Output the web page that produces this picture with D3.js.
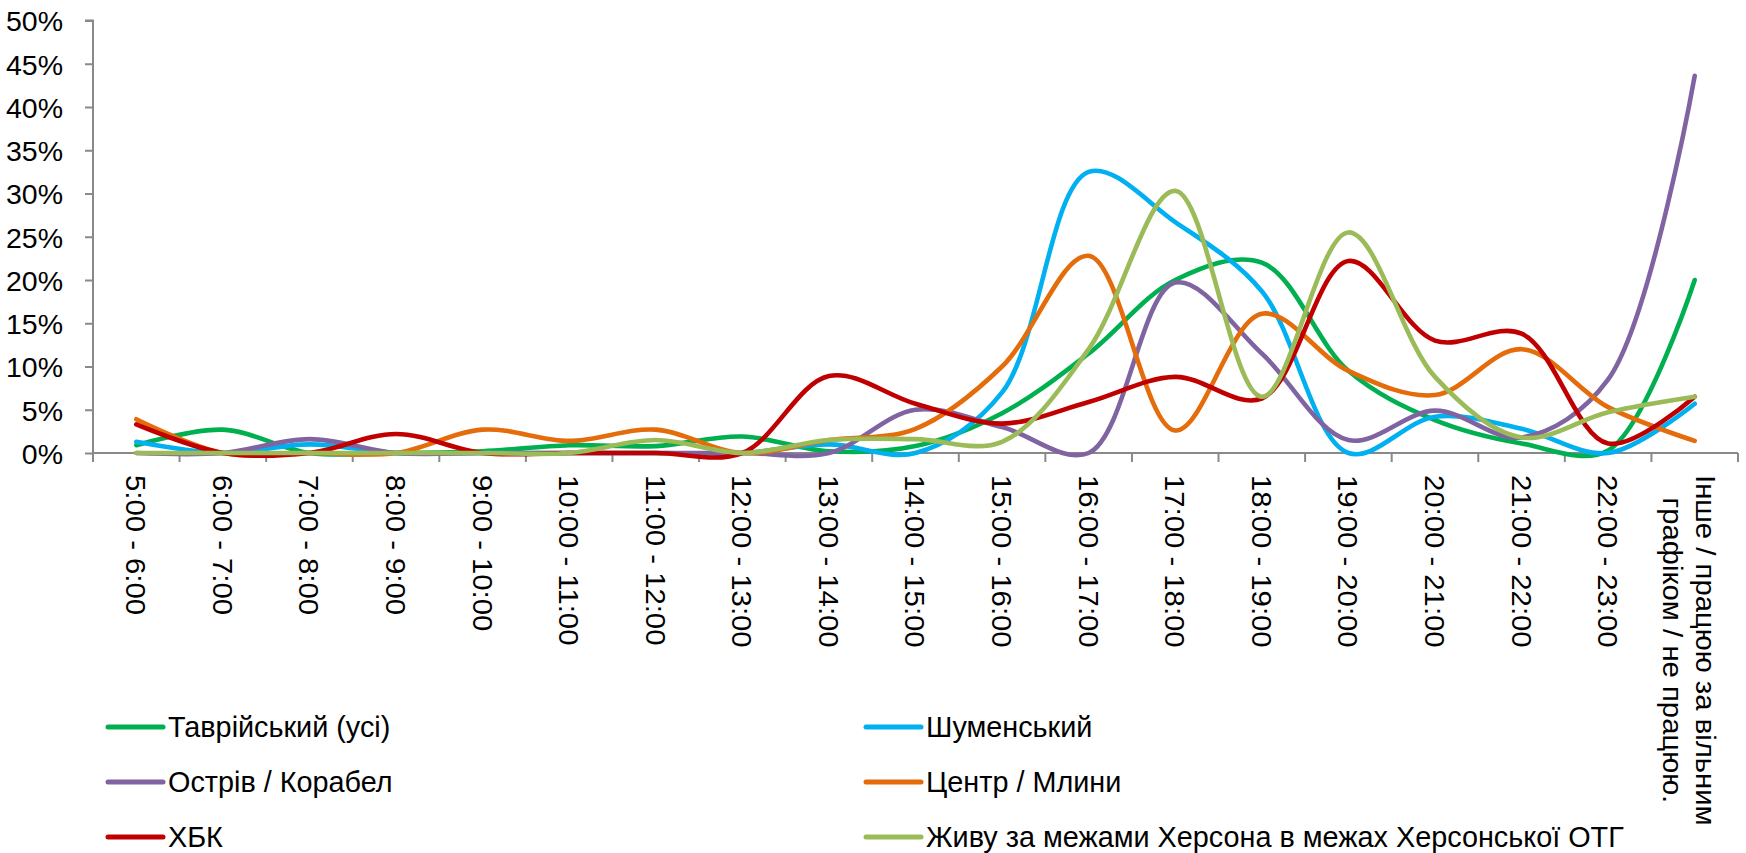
<!DOCTYPE html>
<html>
<head>
<meta charset="utf-8">
<script src="https://cdn.jsdelivr.net/npm/d3@7"></script>
<style>
  html, body { margin: 0; padding: 0; background: #fff; }
  svg { display: block; }
</style>
</head>
<body>
<svg id="chart" width="1746" height="853"></svg>
<script>
// ---------------- DATA ----------------
const categories = [
  "5:00 - 6:00", "6:00 - 7:00", "7:00 - 8:00", "8:00 - 9:00", "9:00 - 10:00",
  "10:00 - 11:00", "11:00 - 12:00", "12:00 - 13:00", "13:00 - 14:00", "14:00 - 15:00",
  "15:00 - 16:00", "16:00 - 17:00", "17:00 - 18:00", "18:00 - 19:00", "19:00 - 20:00",
  "20:00 - 21:00", "21:00 - 22:00", "22:00 - 23:00",
  "Інше / працюю за вільним графіком / не працюю."
];
const seriesNames = [
  "Таврійський (усі)", "Шуменський", "Острів / Корабел",
  "Центр / Млини", "ХБК", "Живу за межами Херсона в межах Херсонської ОТГ"
];
// values in percent
const tavriyskyi = [0.9, 2.7, 0, 0, 0.2, 0.9, 0.8, 1.9, 0.2, 0.8, 4.6, 11.5, 20.0, 22.0, 9.5, 3.8, 1.1, 0.3, 20.0];
const shumenskyi = [1.3, 0, 1.0, 0, 0, 0, 0, 0, 1.0, 0, 7.0, 32.5, 26.7, 18.7, 0, 4.2, 2.8, 0, 5.7];
const ostriv     = [0, 0, 1.6, 0, 0, 0, 0, 0, 0, 5.0, 3.0, 0, 19.7, 11.5, 1.5, 4.9, 1.8, 8.5, 43.6];
const tsentr     = [3.9, 0, 0, 0, 2.7, 1.4, 2.7, 0, 1.5, 2.8, 10.0, 22.8, 2.6, 16.1, 9.5, 6.7, 12.0, 5.3, 1.4];
const khbk       = [3.3, 0, 0, 2.2, 0, 0, 0, 0, 8.9, 5.7, 3.4, 5.9, 8.8, 6.3, 22.2, 13.0, 13.8, 1.1, 6.5];
const zhyvu      = [0, 0, 0, 0, 0, 0, 1.5, 0, 1.5, 1.6, 1.3, 12.0, 30.3, 6.5, 25.5, 8.8, 1.8, 4.7, 6.5];
const yTickValues = [0, 5, 10, 15, 20, 25, 30, 35, 40, 45, 50];

const seriesValues = [tavriyskyi, shumenskyi, ostriv, tsentr, khbk, zhyvu];
const seriesColors = ["#00B050", "#00B0F0", "#8064A2", "#E46C0A", "#C00000", "#9BBB59"];

// ---------------- LAYOUT ----------------
const svg = d3.select("#chart");
svg.append("rect").attr("width", 1746).attr("height", 853).attr("fill", "#fff");

const plot = { left: 93, right: 1738, top: 20.5, bottom: 453 };
const axisColor = "#898989";
const fontMain = "'Liberation Sans', Arial, sans-serif";

const x = d3.scaleBand().domain(categories).range([plot.left, plot.right]).padding(0);
const y = d3.scaleLinear().domain([0, 50]).range([plot.bottom, plot.top]);
const cx = d => x(d) + x.bandwidth() / 2;

// ---------- Y axis ----------
const yAxis = d3.axisLeft(y).tickValues(yTickValues).tickSize(8).tickPadding(22)
  .tickFormat(d => d + "%");
const gy = svg.append("g").attr("transform", `translate(${plot.left},0)`).call(yAxis);
gy.select(".domain").attr("stroke", axisColor).attr("stroke-width", 2)
  .attr("d", `M-8,${plot.top}H0V${plot.bottom + 9}`);
gy.selectAll(".tick line").attr("stroke", axisColor).attr("stroke-width", 2);
gy.selectAll(".tick text")
  .attr("fill", "#000").attr("font-family", fontMain).attr("font-size", 28.5)
  .attr("dy", "0.36em");

// ---------- X axis ----------
const gx = svg.append("g");
gx.append("line")
  .attr("x1", plot.left).attr("x2", plot.right)
  .attr("y1", plot.bottom).attr("y2", plot.bottom)
  .attr("stroke", axisColor).attr("stroke-width", 2);
const boundaries = categories.map(c => x(c)).concat([x(categories[categories.length - 1]) + x.bandwidth()]);
gx.selectAll("line.xt").data(boundaries).join("line").attr("class", "xt")
  .attr("x1", d => d).attr("x2", d => d)
  .attr("y1", plot.bottom).attr("y2", plot.bottom + 9)
  .attr("stroke", axisColor).attr("stroke-width", 2);

// labels (rotated 90deg clockwise), wrapped to a max length
const xLabelSize = 29.3, xStretch = 0.95, labelTop = plot.bottom + 22, maxLen = 400, lineGap = 33.5;
const measurer = svg.append("text").attr("font-family", fontMain).attr("font-size", xLabelSize)
  .attr("visibility", "hidden");
function wrap(label) {
  const words = label.split(" ");
  const lines = [];
  let cur = "";
  words.forEach(w => {
    const test = cur ? cur + " " + w : w;
    measurer.text(test);
    if (measurer.node().getComputedTextLength() > maxLen && cur) {
      lines.push(cur); cur = w;
    } else cur = test;
  });
  if (cur) lines.push(cur);
  return lines;
}
categories.forEach(c => {
  const lines = wrap(c);
  const widths = lines.map(l => { measurer.text(l); return measurer.node().getComputedTextLength(); });
  const maxW = d3.max(widths);
  const n = lines.length;
  const offset = n > 1 ? -5 : 0;
  const g = gx.append("g")
    .attr("transform", `translate(${cx(c) + offset},${labelTop}) rotate(90) scale(1,${xStretch})`);
  lines.forEach((l, i) => {
    const across = (i - (n - 1) / 2) * lineGap / xStretch;
    g.append("text")
      .attr("x", n > 1 ? maxW / 2 : 0)
      .attr("y", across)
      .attr("dy", "0.36em")
      .attr("text-anchor", n > 1 ? "middle" : "start")
      .attr("font-family", fontMain).attr("font-size", xLabelSize).attr("fill", "#000")
      .text(l);
  });
});
measurer.remove();

// ---------- Lines ----------
const line = d3.line()
  .x((d, i) => cx(categories[i]))
  .y(d => y(d))
  .curve(d3.curveCatmullRom.alpha(0.5));
svg.append("g").selectAll("path").data(seriesValues).join("path")
  .attr("d", d => line(d))
  .attr("fill", "none")
  .attr("stroke", (d, i) => seriesColors[i])
  .attr("stroke-width", 4.6)
  .attr("stroke-linecap", "round")
  .attr("stroke-linejoin", "round");

// ---------- Legend ----------
const legendRows = [727, 782, 837];
const legendCols = [108, 866];
const legend = svg.append("g");
seriesNames.forEach((name, i) => {
  const col = i % 2, row = Math.floor(i / 2);
  const lx = legendCols[col], ly = legendRows[row];
  legend.append("line")
    .attr("x1", lx).attr("x2", lx + 55).attr("y1", ly).attr("y2", ly)
    .attr("stroke", seriesColors[i]).attr("stroke-width", 5).attr("stroke-linecap", "round");
  legend.append("text")
    .attr("x", lx + 60).attr("y", ly).attr("dy", "0.36em")
    .attr("font-family", fontMain).attr("font-size", 28.8).attr("fill", "#000")
    .text(name);
});
</script>
</body>
</html>
